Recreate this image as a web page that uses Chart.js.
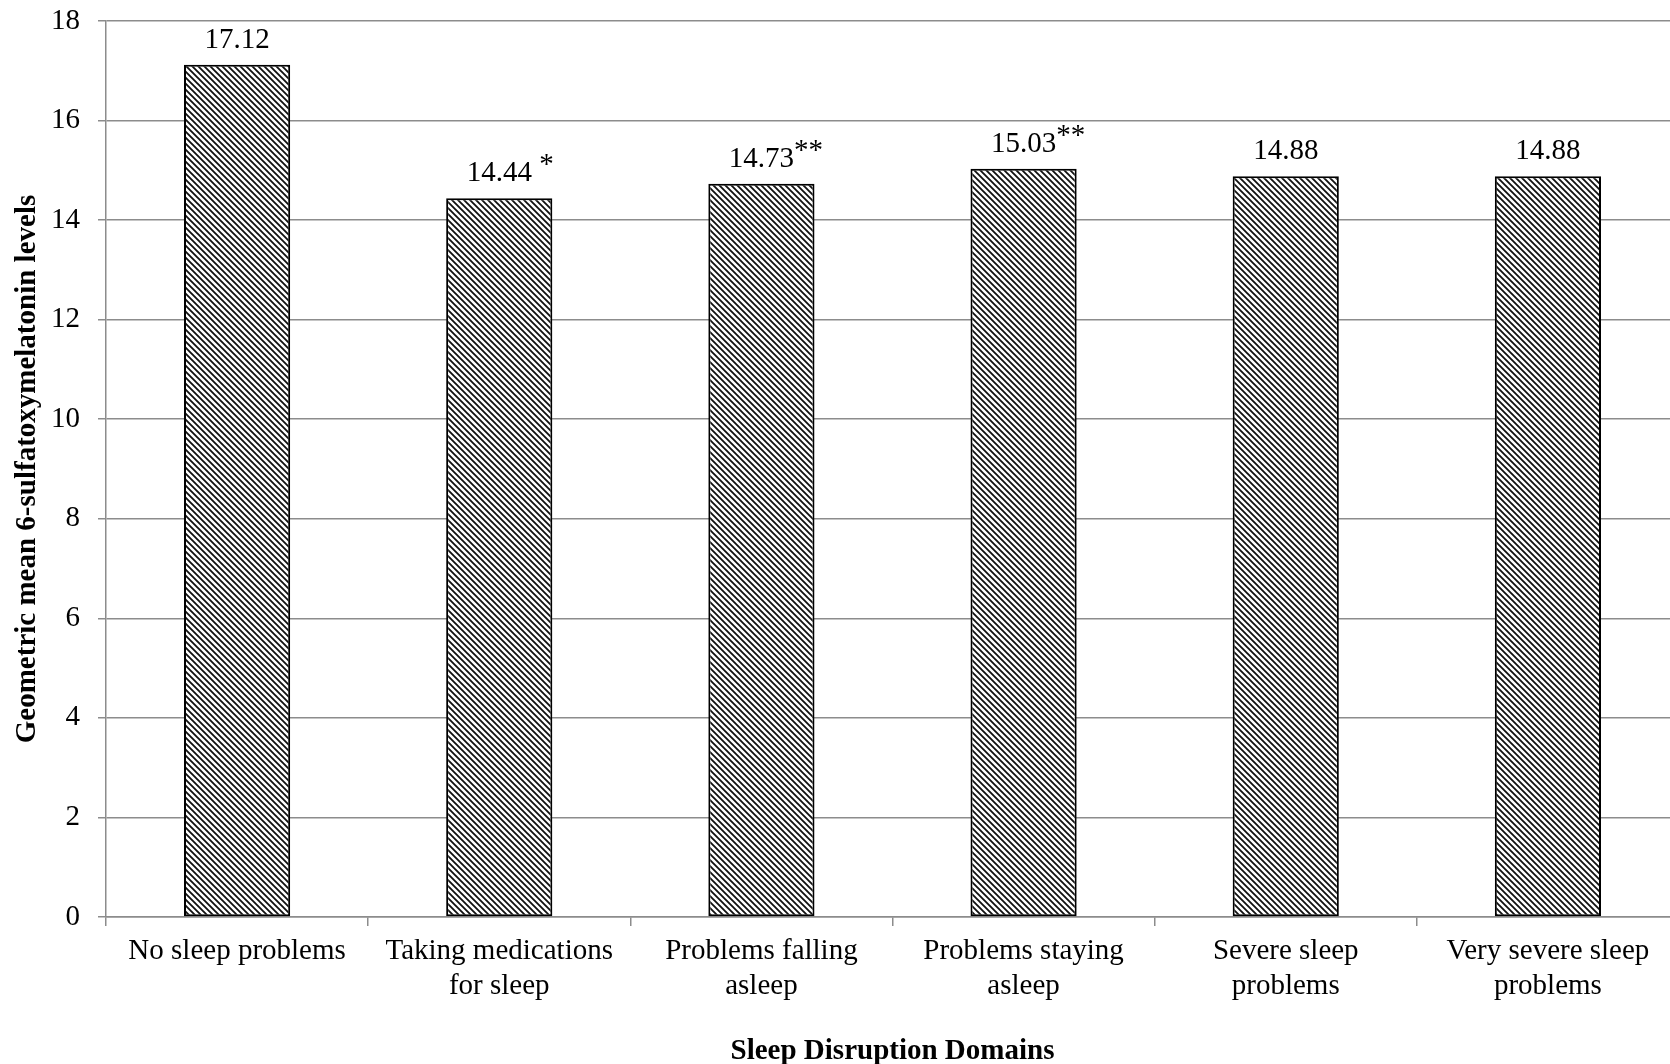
<!DOCTYPE html>
<html>
<head>
<meta charset="utf-8">
<script src="https://cdn.jsdelivr.net/npm/chart.js@4.4.1/dist/chart.umd.min.js"></script>
<style>
  html, body { margin: 0; padding: 0; background: #fff; overflow: hidden; }
  #wrap { width: 1670px; height: 1064px; overflow: hidden; }
</style>
</head>
<body>
<div id="wrap"><canvas id="myChart" width="1680" height="1064"></canvas></div>
<script>
// data
const categories = [
  'No sleep problems',
  ['Taking medications', 'for sleep'],
  ['Problems falling', 'asleep'],
  ['Problems staying', 'asleep'],
  ['Severe sleep', 'problems'],
  ['Very severe sleep', 'problems']
];
const meanLevels = [17.12, 14.44, 14.73, 15.03, 14.88, 14.88];
const significance = ['', ' *', '**', '**', '', ''];
const yTicks = [0, 2, 4, 6, 8, 10, 12, 14, 16, 18];

const serif = '"Liberation Serif", "Times New Roman", serif';
const gridGray = '#8c8c8c';

// diagonal hatch fill
function makeHatch() {
    const c = document.createElement('canvas');
    c.width = 6; c.height = 6;
    const g = c.getContext('2d');
    g.fillStyle = '#fff';
    g.fillRect(0, 0, 6, 6);
    g.strokeStyle = '#111';
    g.lineWidth = 1.8;
    g.beginPath();
    g.moveTo(-1, -1); g.lineTo(7, 7);
    g.moveTo(-1, 5); g.lineTo(1, 7);
    g.moveTo(5, -1); g.lineTo(7, 1);
    g.stroke();
    return g.createPattern(c, 'repeat');
}

// value labels with asterisks above each bar
const valueLabels = {
    id: 'valueLabels',
    afterDatasetsDraw(chart) {
        const ctx = chart.ctx;
        const meta = chart.getDatasetMeta(0);
        ctx.save();
        ctx.font = '29px ' + serif;
        ctx.fillStyle = '#000';
        ctx.textBaseline = 'alphabetic';
        meta.data.forEach((bar, i) => {
            const txt = meanLevels[i].toFixed(2);
            const y = bar.y - 17;
            ctx.textAlign = 'center';
            ctx.fillText(txt, bar.x, y);
            if (significance[i]) {
                const w = ctx.measureText(txt).width;
                ctx.textAlign = 'left';
                ctx.fillText(significance[i], bar.x + w / 2, y - 8);
            }
        });
        ctx.restore();
    }
};

const ctx = document.getElementById('myChart').getContext('2d');
const myChart = new Chart(ctx, {
    type: 'bar',
    data: {
        labels: categories,
        datasets: [{
            data: meanLevels,
            backgroundColor: makeHatch(),
            borderColor: '#000',
            borderWidth: 2,
            borderSkipped: false,
            barPercentage: 0.405,
            categoryPercentage: 1
        }]
    },
    options: {
        responsive: false,
        animation: false,
        layout: { padding: { top: 21, right: 1, left: 0, bottom: 0 } },
        plugins: {
            legend: { display: false },
            tooltip: { enabled: false }
        },
        scales: {
            x: {
                afterFit(scale) { scale.height = 147; },
                grid: {
                    display: true,
                    drawOnChartArea: false,
                    drawTicks: true,
                    tickLength: 9,
                    color: gridGray,
                    lineWidth: 1.5
                },
                border: { display: true, color: gridGray, width: 1.5 },
                ticks: {
                    color: '#000',
                    padding: 8,
                    maxRotation: 0,
                    autoSkip: false,
                    font: { family: serif, size: 29, lineHeight: 1.2 }
                },
                title: {
                    display: true,
                    text: 'Sleep Disruption Domains',
                    color: '#000',
                    padding: { top: 0, bottom: 0 },
                    font: { family: serif, size: 29, weight: 'bold', lineHeight: 0.85 }
                }
            },
            y: {
                min: 0,
                max: 18,
                afterFit(scale) {
                    scale.width = 106;
                    scale.paddingTop = 0;
                    scale.paddingBottom = 0;
                },
                afterBuildTicks(scale) { scale.ticks = yTicks.map(v => ({ value: v })); },
                grid: {
                    color: gridGray,
                    lineWidth: 1.5,
                    drawTicks: true,
                    tickLength: 8
                },
                border: { display: true, color: gridGray, width: 1.5 },
                ticks: {
                    color: '#000',
                    padding: 18,
                    font: { family: serif, size: 29 }
                },
                title: {
                    display: true,
                    text: 'Geometric mean 6-sulfatoxymelatonin levels',
                    color: '#000',
                    padding: { top: 10, bottom: 0 },
                    font: { family: serif, size: 29, weight: 'bold', lineHeight: 1.2 }
                }
            }
        }
    },
    plugins: [valueLabels]
});
</script>
</body>
</html>
